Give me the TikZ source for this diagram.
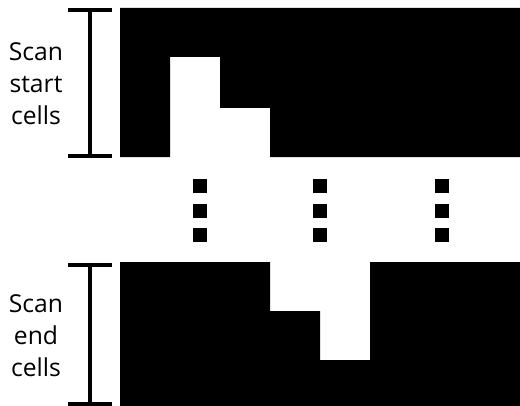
\documentclass[tikz,border=0pt]{standalone}
\usepackage{fontspec}
\setmainfont{Open Sans}
\usepackage{tikz}
\usetikzlibrary{positioning,calc}

\begin{document}
\begin{tikzpicture}[x=0.75pt, y=-0.75pt]
\tikzset{
  lbl/.style={align=center, font=\fontsize{18.5}{24}\selectfont, inner sep=0pt},
  bar/.style={line width=2.3pt},
  dot/.style={fill=black, minimum size=10.5pt, inner sep=0pt}
}
\useasboundingbox (0,0) rectangle (520,406);
% top block: scan start cells
\fill[black] (120,8) -- (520,8) -- (520,157) -- (270,157) -- (270,108) -- (220,108) -- (220,57) -- (170,57) -- (170,157) -- (120,157) -- cycle;
% bottom block: scan end cells
\fill[black] (120,262) -- (270,262) -- (270,311) -- (320,311) -- (320,360) -- (370,360) -- (370,262) -- (520,262) -- (520,406) -- (120,406) -- cycle;
% bars
\coordinate (st) at (90,10);
\coordinate (sb) at (90,156);
\coordinate (et) at (90,265);
\coordinate (eb) at (90,404);
\draw[bar] (st) -- (sb);
\draw[bar] ($(st)+(-22,0)$) -- ($(st)+(22,0)$);
\draw[bar] ($(sb)+(-22,0)$) -- ($(sb)+(22,0)$);
\draw[bar] (et) -- (eb);
\draw[bar] ($(et)+(-22,0)$) -- ($(et)+(22,0)$);
\draw[bar] ($(eb)+(-22,0)$) -- ($(eb)+(22,0)$);
% labels
\node[lbl] (start) at (36,84) {Scan\\start\\cells};
\node[lbl] (end) at (36,336) {Scan\\end\\cells};
% dots
\foreach \x in {200,320,442}
  \foreach \y in {185.5,210.5,234.5}
    \node[dot] at (\x,\y) {};
\end{tikzpicture}
\end{document}
